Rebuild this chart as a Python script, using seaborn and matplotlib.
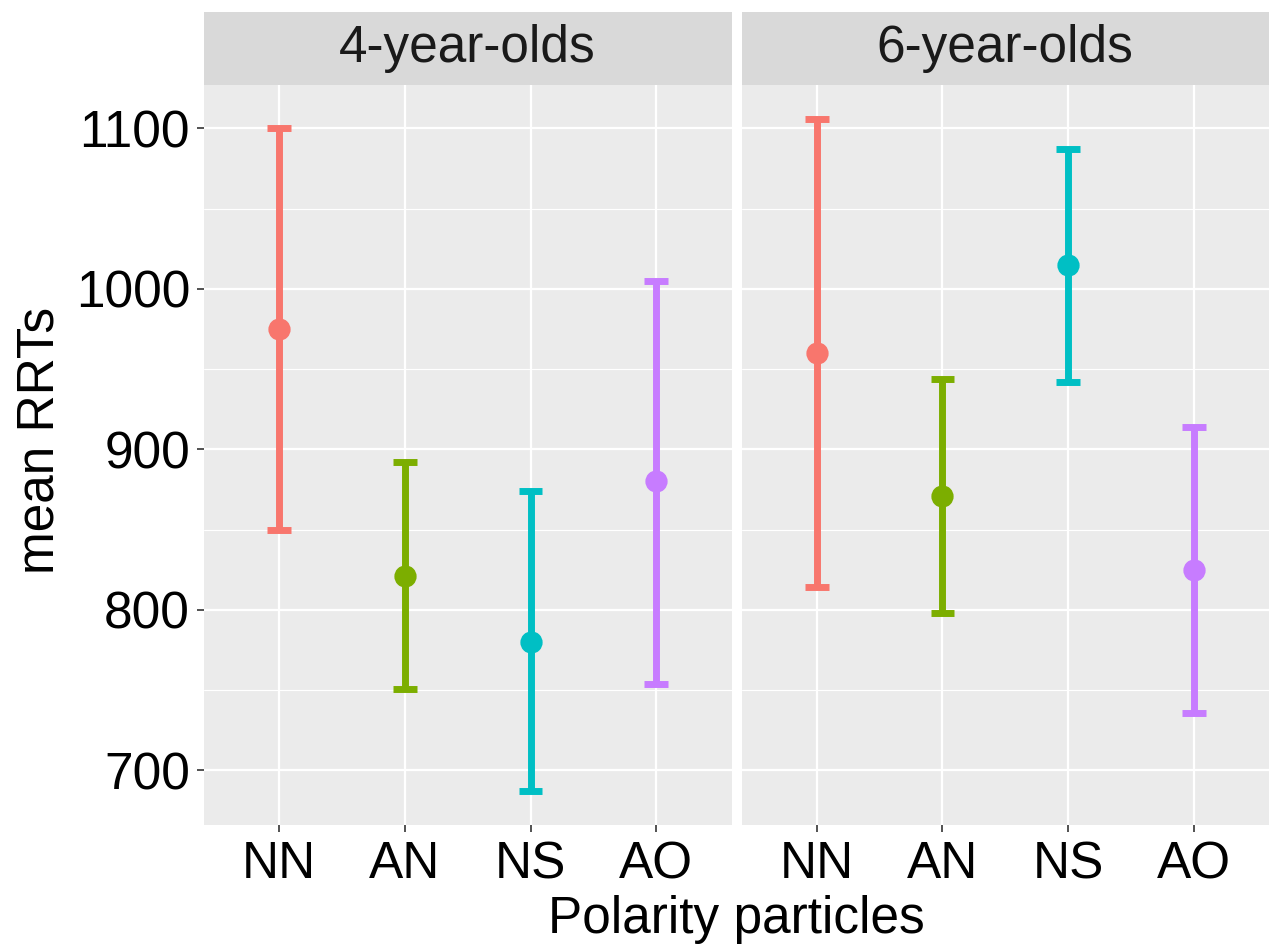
import numpy as np
import pandas as pd
import matplotlib
matplotlib.use("Agg")
import matplotlib.pyplot as plt
from matplotlib.patches import Rectangle
from matplotlib.ticker import MultipleLocator, FixedLocator
import seaborn as sns

# Polarity particle conditions and age groups
particles = ["NN", "AN", "NS", "AO"]
groups = ["4-year-olds", "6-year-olds"]

# Mean response times with lower / upper interval bounds
mean_4 = [975, 821, 780, 880]
low_4 = [850, 751, 687, 754]
high_4 = [1100, 892, 874, 1005]

mean_6 = [960, 871, 1015, 825]
low_6 = [814, 798, 942, 736]
high_6 = [1106, 944, 1087, 914]

palette = ["#F8766D", "#7CAE00", "#00BFC4", "#C77CFF"]
y_ticks = [700, 800, 900, 1000, 1100]

# Long-form table: each condition keeps its low, mean and high value;
# the median gives the point and the min/max give the interval.
rows = []
for grp, lo, mu, hi in [(groups[0], low_4, mean_4, high_4),
                        (groups[1], low_6, mean_6, high_6)]:
    for p, a, b, c in zip(particles, lo, mu, hi):
        for v in (a, b, c):
            rows.append({"group": grp, "particle": p, "rrt": v})
df = pd.DataFrame(rows)

sns.set_theme(style="darkgrid", rc={
    "axes.facecolor": "#EBEBEB",
    "grid.color": "white",
    "axes.edgecolor": "none",
})
plt.rcParams["font.family"] = ["Liberation Sans", "DejaVu Sans"]

FS = 37
fig, axes = plt.subplots(1, 2, figsize=(12.69, 9.52), dpi=100, sharey=True)
fig.subplots_adjust(left=204 / 1269, right=1.0, bottom=(952 - 825) / 952,
                    top=(952 - 85) / 952, wspace=10 / 527.5)

strip_h = 73 / 740
for i, (ax, grp) in enumerate(zip(axes, groups)):
    sub = df[df["group"] == grp]
    sns.pointplot(data=sub, x="particle", y="rrt", hue="particle",
                  order=particles, hue_order=particles, palette=palette,
                  estimator="median",
                  errorbar=lambda v: (v.min(), v.max()),
                  capsize=0.19, linestyle="none", markers="o",
                  markersize=14, err_kws={"linewidth": 5,
                                          "solid_capstyle": "butt"},
                  legend=False, ax=ax)
    ax.set_xlim(-0.6, 3.6)
    ax.set_ylim(666, 1127)
    ax.yaxis.set_major_locator(FixedLocator(y_ticks))
    ax.yaxis.set_minor_locator(MultipleLocator(50))
    ax.grid(True, which="major", color="white", linewidth=1.6)
    ax.grid(True, which="minor", axis="y", color="white", linewidth=0.8)
    ax.set_axisbelow(True)
    ax.set_xlabel("")
    ax.set_ylabel("")
    for s in ax.spines.values():
        s.set_visible(False)
    ax.tick_params(axis="x", which="major", bottom=True, length=5, width=1.2,
                   color="#333333", labelsize=FS, labelcolor="black", pad=6)
    ax.tick_params(axis="y", which="major", left=(i == 0), length=5, width=1.2,
                   color="#333333", labelsize=FS, labelcolor="black", pad=5,
                   labelleft=(i == 0))
    ax.tick_params(axis="y", which="minor", left=False)
    # facet strip
    ax.add_patch(Rectangle((0, 1), 1, strip_h, transform=ax.transAxes,
                           facecolor="#D9D9D9", edgecolor="none", clip_on=False))
    ax.text(0.5, 1 + strip_h / 2, grp, transform=ax.transAxes, ha="center",
            va="center", fontsize=FS, color="#1A1A1A")

fig.text(736 / 1269, (952 - 933) / 952, "Polarity particles", ha="center",
         va="baseline", fontsize=FS, color="black")
fig.text(40 / 1269, (952 - 440) / 952, "mean RRTs", ha="center", va="center",
         rotation=90, fontsize=FS, color="black")

fig.savefig("out.png", dpi=100)
